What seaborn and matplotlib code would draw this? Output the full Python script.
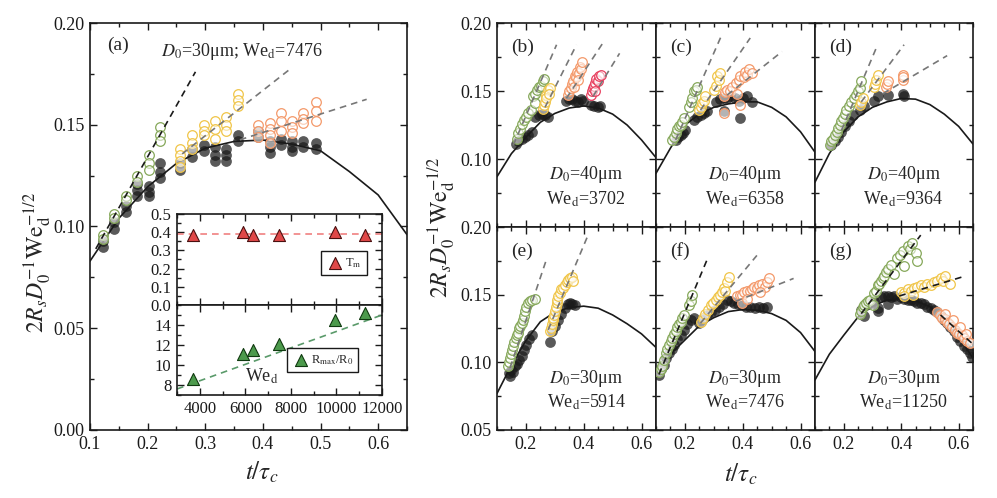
# -------------------------------------------------------------
# Sheet radius vs time: panel (a) with inset, panels (b)-(g)
# -------------------------------------------------------------
import numpy as np
import matplotlib
matplotlib.use("Agg")
import matplotlib.pyplot as plt
import seaborn as sns
from matplotlib.ticker import MultipleLocator, FormatStrFormatter

# -------------------------------------------------------------
# 0 – Data
# -------------------------------------------------------------
curve_t = [0.10, 0.15, 0.20, 0.25, 0.30, 0.35, 0.40, 0.45, 0.50, 0.55, 0.60, 0.65]
curve_a = [0.083, 0.104, 0.1195, 0.131, 0.1385, 0.1418, 0.1425, 0.1405, 0.1372, 0.127, 0.1155, 0.096]
curve_b = [0.087, 0.104, 0.116, 0.127, 0.1335, 0.1375, 0.139, 0.1375, 0.133, 0.125, 0.114, 0.101]
curve_c = [0.0895, 0.108, 0.125, 0.133, 0.138, 0.1405, 0.142, 0.142, 0.138, 0.131, 0.120, 0.105]
curve_d = [0.083, 0.104, 0.120, 0.131, 0.138, 0.142, 0.1445, 0.144, 0.140, 0.133, 0.124, 0.111]
curve_e = [0.077, 0.098, 0.116, 0.130, 0.137, 0.1405, 0.1415, 0.140, 0.135, 0.1285, 0.121, 0.111]
curve_f = [0.0906, 0.106, 0.1165, 0.127, 0.133, 0.1375, 0.139, 0.1385, 0.136, 0.131, 0.122, 0.108]
curve_g = [0.087, 0.106, 0.120, 0.1335, 0.1415, 0.146, 0.147, 0.1455, 0.141, 0.132, 0.119, 0.103]

# panel (a): D0=30um, We=7476
a_blk_t = [0.122, 0.122, 0.142, 0.142, 0.162, 0.162, 0.182, 0.182, 0.182, 0.203, 0.203, 0.203,
           0.222, 0.222, 0.222, 0.257, 0.257, 0.277, 0.277, 0.297, 0.297, 0.317, 0.317, 0.317,
           0.336, 0.336, 0.336, 0.356, 0.356, 0.392, 0.392, 0.413, 0.413, 0.413, 0.431, 0.431,
           0.450, 0.450, 0.450, 0.470, 0.470, 0.492, 0.492]
a_blk_v = [0.093, 0.090, 0.102, 0.099, 0.110, 0.107, 0.121, 0.118, 0.115, 0.120, 0.117, 0.115,
           0.131, 0.127, 0.124, 0.131, 0.128, 0.138, 0.134, 0.140, 0.137, 0.139, 0.135, 0.132,
           0.138, 0.135, 0.132, 0.145, 0.142, 0.147, 0.144, 0.142, 0.139, 0.136, 0.143, 0.140,
           0.142, 0.139, 0.137, 0.142, 0.139, 0.141, 0.138]
a_grn_t = [0.122, 0.122, 0.142, 0.142, 0.162, 0.162, 0.182, 0.182, 0.203, 0.203, 0.203, 0.222, 0.222, 0.222]
a_grn_v = [0.096, 0.094, 0.106, 0.104, 0.115, 0.113, 0.125, 0.122, 0.135, 0.131, 0.128, 0.149, 0.145, 0.142]
a_yel_t = [0.257, 0.257, 0.257, 0.257, 0.277, 0.277, 0.277, 0.297, 0.297, 0.297,
           0.317, 0.317, 0.317, 0.336, 0.336, 0.336, 0.356, 0.356, 0.356]
a_yel_v = [0.138, 0.135, 0.132, 0.129, 0.145, 0.141, 0.138, 0.150, 0.147, 0.145,
           0.152, 0.148, 0.143, 0.154, 0.150, 0.147, 0.165, 0.162, 0.159]
a_org_t = [0.392, 0.392, 0.392, 0.413, 0.413, 0.413, 0.413, 0.431, 0.431, 0.431,
           0.450, 0.450, 0.450, 0.470, 0.470, 0.470, 0.492, 0.492, 0.492]
a_org_v = [0.150, 0.147, 0.144, 0.151, 0.148, 0.145, 0.141, 0.156, 0.152, 0.147,
           0.152, 0.149, 0.146, 0.156, 0.153, 0.151, 0.161, 0.157, 0.152]
a_fit_t = [[0.11, 0.283], [0.26, 0.45], [0.36, 0.58]]
a_fit_v = [[0.089, 0.176], [0.1357, 0.178], [0.1426, 0.1625]]

# panel (b): D0=40um, We=3702
b_blk_t = [0.165, 0.174, 0.185, 0.197, 0.208, 0.220, 0.231, 0.245, 0.254, 0.266, 0.277,
           0.340, 0.350, 0.360, 0.369, 0.380, 0.390, 0.398, 0.426, 0.436, 0.449, 0.455]
b_blk_v = [0.111, 0.113, 0.115, 0.116, 0.118, 0.120, 0.131, 0.132, 0.133, 0.132, 0.131,
           0.143, 0.144, 0.144, 0.143, 0.142, 0.144, 0.143, 0.140, 0.139, 0.138, 0.139]
b_grn_t = [0.168, 0.174, 0.179, 0.187, 0.194, 0.201, 0.208, 0.217, 0.225, 0.231, 0.237, 0.244, 0.252, 0.258, 0.263, 0.230]
b_grn_v = [0.115, 0.119, 0.122, 0.126, 0.129, 0.131, 0.134, 0.136, 0.146, 0.148, 0.151, 0.153, 0.154, 0.157, 0.159, 0.141]
b_yel_t = [0.260, 0.263, 0.266, 0.271, 0.277, 0.283, 0.268, 0.280]
b_yel_v = [0.137, 0.140, 0.142, 0.147, 0.151, 0.152, 0.145, 0.148]
b_org_t = [0.346, 0.350, 0.355, 0.360, 0.363, 0.369, 0.374, 0.378, 0.382, 0.386, 0.390, 0.394, 0.366, 0.380]
b_org_v = [0.147, 0.150, 0.152, 0.155, 0.157, 0.161, 0.160, 0.164, 0.163, 0.168, 0.166, 0.171, 0.153, 0.158]
b_red_t = [0.426, 0.430, 0.432, 0.436, 0.438, 0.444, 0.448, 0.452, 0.459, 0.440]
b_red_v = [0.147, 0.150, 0.152, 0.154, 0.156, 0.159, 0.157, 0.161, 0.162, 0.150]
b_fit_t = [[0.156, 0.306], [0.266, 0.375], [0.340, 0.473], [0.432, 0.524]]
b_fit_v = [[0.110, 0.184], [0.138, 0.184], [0.1446, 0.1875], [0.146, 0.1777]]

# panel (c): D0=40um, We=6358
c_blk_t = [0.168, 0.177, 0.185, 0.194, 0.202, 0.231, 0.243, 0.254, 0.266, 0.277, 0.306,
           0.320, 0.334, 0.346, 0.357, 0.372, 0.386, 0.400, 0.415, 0.432, 0.392, 0.334]
c_blk_v = [0.114, 0.116, 0.118, 0.119, 0.121, 0.129, 0.131, 0.132, 0.134, 0.135, 0.142,
           0.144, 0.145, 0.145, 0.146, 0.145, 0.143, 0.145, 0.146, 0.142, 0.130, 0.135]
c_grn_t = [0.156, 0.162, 0.168, 0.174, 0.179, 0.185, 0.191, 0.214, 0.220, 0.225, 0.231, 0.237, 0.243, 0.197]
c_grn_v = [0.114, 0.116, 0.119, 0.122, 0.124, 0.125, 0.127, 0.138, 0.142, 0.145, 0.150, 0.151, 0.153, 0.130]
c_yel_t = [0.248, 0.254, 0.260, 0.266, 0.271, 0.300, 0.306, 0.311, 0.317, 0.323]
c_yel_v = [0.136, 0.138, 0.141, 0.143, 0.146, 0.151, 0.154, 0.161, 0.158, 0.163]
c_org_t = [0.334, 0.340, 0.346, 0.357, 0.363, 0.375, 0.386, 0.392, 0.403, 0.409, 0.415, 0.421, 0.432, 0.334, 0.392, 0.380]
c_org_v = [0.146, 0.149, 0.151, 0.150, 0.153, 0.156, 0.158, 0.161, 0.160, 0.164, 0.162, 0.166, 0.163, 0.134, 0.140, 0.148]
c_fit_t = [[0.168, 0.329], [0.254, 0.426], [0.346, 0.536]]
c_fit_v = [[0.114, 0.192], [0.136, 0.189], [0.147, 0.179]]

# panel (d): D0=40um, We=9364
d_blk_t = [0.157, 0.168, 0.180, 0.192, 0.203, 0.218, 0.232, 0.255, 0.272, 0.307, 0.318, 0.353, 0.405, 0.410]
d_blk_v = [0.110, 0.113, 0.116, 0.120, 0.124, 0.128, 0.132, 0.136, 0.139, 0.143, 0.146, 0.147, 0.148, 0.146]
d_grn_t = [0.152, 0.157, 0.163, 0.169, 0.175, 0.180, 0.186, 0.192, 0.198, 0.203, 0.209, 0.218, 0.226,
           0.235, 0.244, 0.250, 0.255, 0.261]
d_grn_v = [0.110, 0.113, 0.115, 0.118, 0.120, 0.123, 0.125, 0.128, 0.130, 0.133, 0.136, 0.139, 0.142,
           0.145, 0.147, 0.150, 0.152, 0.157]
d_yel_t = [0.255, 0.261, 0.267, 0.307, 0.310, 0.313, 0.319]
d_yel_v = [0.140, 0.142, 0.145, 0.153, 0.155, 0.158, 0.162]
d_org_t = [0.347, 0.350, 0.353, 0.405, 0.405, 0.408]
d_org_v = [0.153, 0.155, 0.157, 0.158, 0.162, 0.160]
d_fit_t = [[0.192, 0.318], [0.261, 0.410], [0.336, 0.560]]
d_fit_v = [[0.121, 0.184], [0.142, 0.184], [0.148, 0.176]]

# panel (e): D0=30um, We=5914
e_blk_t = [0.140, 0.145, 0.150, 0.156, 0.162, 0.168, 0.176, 0.185, 0.194, 0.202, 0.211, 0.220,
           0.283, 0.289, 0.300, 0.312, 0.323, 0.335, 0.345, 0.352, 0.360, 0.369]
e_blk_v = [0.092, 0.090, 0.094, 0.093, 0.097, 0.099, 0.102, 0.105, 0.109, 0.113, 0.117, 0.120,
           0.115, 0.123, 0.127, 0.131, 0.136, 0.140, 0.143, 0.144, 0.143, 0.142]
e_grn_t = [0.139, 0.142, 0.145, 0.148, 0.151, 0.156, 0.160, 0.164, 0.168, 0.172, 0.176, 0.180,
           0.185, 0.190, 0.194, 0.198, 0.202, 0.208, 0.215, 0.222, 0.231]
e_grn_v = [0.097, 0.100, 0.103, 0.106, 0.109, 0.112, 0.115, 0.118, 0.120, 0.122, 0.125, 0.127,
           0.129, 0.131, 0.134, 0.138, 0.141, 0.144, 0.145, 0.146, 0.147]
e_yel_t = [0.283, 0.286, 0.289, 0.292, 0.294, 0.297, 0.300, 0.303, 0.306, 0.309, 0.312, 0.318,
           0.323, 0.329, 0.335, 0.341, 0.346, 0.352, 0.358, 0.363]
e_yel_v = [0.123, 0.125, 0.128, 0.131, 0.133, 0.135, 0.138, 0.141, 0.144, 0.146, 0.149, 0.151,
           0.154, 0.155, 0.157, 0.159, 0.161, 0.162, 0.163, 0.160]
e_fit_t = [[0.145, 0.271], [0.277, 0.415]]
e_fit_v = [[0.096, 0.176], [0.124, 0.194]]

# panel (f): D0=30um, We=7476
f_blk_t = [0.110, 0.119, 0.128, 0.136, 0.145, 0.154, 0.162, 0.174, 0.185, 0.197, 0.208, 0.220,
           0.231, 0.248, 0.260, 0.275, 0.289, 0.303, 0.317, 0.332, 0.346, 0.360, 0.369, 0.384,
           0.398, 0.412, 0.426, 0.441, 0.455, 0.470, 0.484]
f_blk_v = [0.091, 0.095, 0.098, 0.103, 0.107, 0.110, 0.113, 0.117, 0.120, 0.124, 0.128, 0.131,
           0.133, 0.129, 0.131, 0.135, 0.137, 0.139, 0.141, 0.143, 0.146, 0.145, 0.144, 0.143,
           0.142, 0.141, 0.141, 0.140, 0.141, 0.140, 0.141]
f_grn_t = [0.110, 0.116, 0.122, 0.128, 0.133, 0.139, 0.145, 0.151, 0.157, 0.162, 0.168, 0.174,
           0.179, 0.185, 0.191, 0.197, 0.214, 0.220, 0.225]
f_grn_v = [0.093, 0.095, 0.097, 0.102, 0.107, 0.110, 0.113, 0.116, 0.118, 0.121, 0.123, 0.126,
           0.128, 0.130, 0.133, 0.135, 0.142, 0.145, 0.150]
f_yel_t = [0.254, 0.262, 0.271, 0.280, 0.289, 0.298, 0.306, 0.315, 0.323, 0.329, 0.334, 0.340, 0.346, 0.352]
f_yel_v = [0.130, 0.133, 0.136, 0.139, 0.142, 0.144, 0.146, 0.148, 0.150, 0.152, 0.155, 0.153, 0.159, 0.163]
f_org_t = [0.380, 0.389, 0.398, 0.406, 0.415, 0.424, 0.432, 0.440, 0.449, 0.458, 0.467, 0.476,
           0.484, 0.490, 0.398, 0.415, 0.461]
f_org_v = [0.149, 0.150, 0.150, 0.152, 0.153, 0.153, 0.154, 0.156, 0.155, 0.157, 0.158, 0.156,
           0.159, 0.162, 0.144, 0.147, 0.152]
f_fit_t = [[0.110, 0.277], [0.254, 0.449], [0.375, 0.576]]
f_fit_v = [[0.091, 0.176], [0.129, 0.179], [0.145, 0.162]]

# panel (g): D0=30um, We=11250
g_blk_t = [0.261, 0.272, 0.284, 0.296, 0.307, 0.318, 0.330, 0.341, 0.353, 0.364, 0.376, 0.387,
           0.399, 0.410, 0.422, 0.433, 0.445, 0.456, 0.468, 0.480, 0.491, 0.503, 0.514, 0.526,
           0.537, 0.549, 0.560, 0.571, 0.583, 0.594, 0.606, 0.617, 0.629, 0.640, 0.646, 0.318, 0.353]
g_blk_v = [0.139, 0.134, 0.143, 0.144, 0.145, 0.138, 0.148, 0.149, 0.149, 0.148, 0.149, 0.147,
           0.148, 0.147, 0.146, 0.146, 0.145, 0.144, 0.144, 0.143, 0.141, 0.140, 0.139, 0.137,
           0.134, 0.131, 0.129, 0.126, 0.123, 0.119, 0.116, 0.112, 0.110, 0.107, 0.104, 0.140, 0.143]
g_grn_t = [0.255, 0.261, 0.267, 0.272, 0.278, 0.284, 0.290, 0.301, 0.307, 0.312, 0.318, 0.324,
           0.330, 0.336, 0.341, 0.347, 0.355, 0.364, 0.376, 0.387, 0.396, 0.405, 0.411, 0.422,
           0.430, 0.439, 0.451, 0.456]
g_grn_v = [0.136, 0.138, 0.141, 0.142, 0.144, 0.145, 0.146, 0.142, 0.151, 0.153, 0.157, 0.158,
           0.160, 0.162, 0.164, 0.167, 0.169, 0.172, 0.165, 0.177, 0.179, 0.182, 0.171, 0.186,
           0.184, 0.188, 0.181, 0.175]
g_yel_t = [0.399, 0.410, 0.422, 0.433, 0.445, 0.456, 0.468, 0.480, 0.491, 0.503, 0.514, 0.526,
           0.537, 0.546, 0.554, 0.571, 0.410, 0.440]
g_yel_v = [0.152, 0.151, 0.154, 0.153, 0.155, 0.156, 0.157, 0.156, 0.158, 0.157, 0.159, 0.160,
           0.162, 0.160, 0.164, 0.158, 0.149, 0.150]
g_org_t = [0.525, 0.534, 0.543, 0.551, 0.560, 0.568, 0.577, 0.586, 0.594, 0.603, 0.611, 0.620,
           0.629, 0.640, 0.554, 0.580, 0.606, 0.625]
g_org_v = [0.137, 0.135, 0.133, 0.132, 0.130, 0.128, 0.126, 0.124, 0.122, 0.121, 0.120, 0.118,
           0.116, 0.114, 0.136, 0.131, 0.126, 0.121]
g_fit_t = [[0.261, 0.468], [0.393, 0.611], [0.537, 0.652]]
g_fit_v = [[0.136, 0.194], [0.149, 0.163], [0.135, 0.113]]

# inset data
we_d = [3702, 5914, 6358, 7476, 9950, 11250]
t_m = [0.385, 0.403, 0.385, 0.385, 0.403, 0.385]
r_ratio = [8.57, 11.07, 11.5, 12.1, 14.5, 15.23]
r_fit_x = [3000, 12000]
r_fit_y = [7.6, 15.0]

# -------------------------------------------------------------
# 1 – Style
# -------------------------------------------------------------
sns.set_theme(style="ticks")
plt.rcParams['font.family'] = ['Liberation Serif', 'DejaVu Serif']
plt.rcParams['mathtext.fontset'] = 'stix'

GRN, YEL, ORG, RED = '#86a85a', '#f0c548', '#f4996a', '#e8405f'
GRAY = '#777777'
W, H = 997, 498
fig = plt.figure(figsize=(W/100, H/100), dpi=100)

def px_axes(x0, y0, x1, y1):
    return fig.add_axes([x0/W, 1-y1/H, (x1-x0)/W, (y1-y0)/H])

def style(ax, xmaj, xmin, ymaj, ymin, size=13):
    ax.xaxis.set_major_locator(MultipleLocator(xmaj)); ax.xaxis.set_minor_locator(MultipleLocator(xmin))
    ax.yaxis.set_major_locator(MultipleLocator(ymaj)); ax.yaxis.set_minor_locator(MultipleLocator(ymin))
    ax.tick_params(which='both', direction='in', top=True, right=True, width=1, colors='k', labelsize=size, pad=4)
    ax.tick_params(which='major', length=5); ax.tick_params(which='minor', length=3)
    for s in ax.spines.values():
        s.set_linewidth(1.2); s.set_color('k')
    ax.set_xlabel(''); ax.set_ylabel('')

def draw(ax, curve_v, blk_t, blk_v, groups, fits_t, fits_v, fit_cols):
    sns.scatterplot(x=blk_t, y=blk_v, ax=ax, color='k', alpha=0.72, s=60, linewidth=0, zorder=2)
    sns.lineplot(x=curve_t, y=curve_v, ax=ax, color='k', lw=1.2, zorder=3)
    for t, v, c in groups:
        sns.scatterplot(x=t, y=v, ax=ax, facecolor=(1, 1, 1, 0.55), edgecolor=c, s=48, linewidth=0.9, zorder=4)
    for t, v, c in zip(fits_t, fits_v, fit_cols):
        sns.lineplot(x=t, y=v, ax=ax, color=c, lw=1.2, linestyle=(0, (4, 3)), zorder=5)
    ax.set_xlim(0.1, 0.65)

# -------------------------------------------------------------
# 2 – Panel (a)
# -------------------------------------------------------------
ax = px_axes(90, 23, 407, 430)
draw(ax, curve_a, a_blk_t, a_blk_v,
     [(a_grn_t, a_grn_v, GRN), (a_yel_t, a_yel_v, YEL), (a_org_t, a_org_v, ORG)],
     a_fit_t, a_fit_v, ['k', GRAY, GRAY])
ax.set_ylim(0, 0.2)
style(ax, 0.1, 0.05, 0.05, 0.025)
ax.xaxis.set_major_formatter(FormatStrFormatter('%.1f'))
ax.yaxis.set_major_formatter(FormatStrFormatter('%.2f'))
ax.text(0.055, 0.945, '(a)', transform=ax.transAxes, fontsize=14, va='center')
ax.text(0.48, 0.93, r'$D_0$=30μm; We$_\mathrm{d}$=7476', transform=ax.transAxes, fontsize=13, ha='center', va='center')

# inset
axt = px_axes(177, 214, 382, 305)
axb = px_axes(177, 305, 382, 395)
axt.axhline(np.mean(t_m), color='#f08080', lw=1.2, ls=(0, (4, 3)))
sns.scatterplot(x=we_d, y=t_m, ax=axt, marker='^', s=75, color='#e04848', edgecolor='#4a1010', linewidth=0.8,
                label=r'T$_\mathrm{m}$', zorder=3)
axt.set_xlim(3000, 12000); axt.set_ylim(0, 0.5)
style(axt, 2000, 1000, 0.1, 0.05, size=12)
axt.tick_params(labelbottom=False)
axt.yaxis.set_major_formatter(FormatStrFormatter('%.1f'))
axt.legend(loc='lower right', bbox_to_anchor=(0.955, 0.26), frameon=True, fancybox=False, edgecolor='k',
           fontsize=9, handletextpad=0.1, handlelength=1.4, borderpad=0.4, framealpha=1)

sns.lineplot(x=r_fit_x, y=r_fit_y, ax=axb, color='#5a9a6a', lw=1.2, linestyle=(0, (4, 3)))
sns.scatterplot(x=we_d, y=r_ratio, ax=axb, marker='^', s=75, color='#4c9a4c', edgecolor='#103a10', linewidth=0.8,
                label=r'R$_\mathrm{max}$/R$_0$', zorder=3)
axb.set_xlim(3000, 12000); axb.set_ylim(7, 16)
style(axb, 2000, 1000, 2, 1, size=12)
axb.set_yticks([8, 10, 12, 14])
axb.legend(loc='lower right', bbox_to_anchor=(0.915, 0.19), frameon=True, fancybox=False, edgecolor='k',
           fontsize=9, handletextpad=0.1, handlelength=1.4, borderpad=0.4, framealpha=1)
axb.text(6700, 8.9, r'We$_\mathrm{d}$', fontsize=13, ha='center', va='center')

# -------------------------------------------------------------
# 3 – Panels (b)-(g)
# -------------------------------------------------------------
cols = [497, 656, 815, 973]
rows = [23, 227, 430]
panels = [
    ('(b)', '40', '3702', curve_b, b_blk_t, b_blk_v,
     [(b_grn_t, b_grn_v, GRN), (b_yel_t, b_yel_v, YEL), (b_org_t, b_org_v, ORG), (b_red_t, b_red_v, RED)],
     b_fit_t, b_fit_v, [GRAY] * 4),
    ('(c)', '40', '6358', curve_c, c_blk_t, c_blk_v,
     [(c_grn_t, c_grn_v, GRN), (c_yel_t, c_yel_v, YEL), (c_org_t, c_org_v, ORG)],
     c_fit_t, c_fit_v, [GRAY] * 3),
    ('(d)', '40', '9364', curve_d, d_blk_t, d_blk_v,
     [(d_grn_t, d_grn_v, GRN), (d_yel_t, d_yel_v, YEL), (d_org_t, d_org_v, ORG)],
     d_fit_t, d_fit_v, [GRAY] * 3),
    ('(e)', '30', '5914', curve_e, e_blk_t, e_blk_v,
     [(e_grn_t, e_grn_v, GRN), (e_yel_t, e_yel_v, YEL)],
     e_fit_t, e_fit_v, [GRAY] * 2),
    ('(f)', '30', '7476', curve_f, f_blk_t, f_blk_v,
     [(f_grn_t, f_grn_v, GRN), (f_yel_t, f_yel_v, YEL), (f_org_t, f_org_v, ORG)],
     f_fit_t, f_fit_v, ['k', GRAY, GRAY]),
    ('(g)', '30', '11250', curve_g, g_blk_t, g_blk_v,
     [(g_grn_t, g_grn_v, GRN), (g_yel_t, g_yel_v, YEL), (g_org_t, g_org_v, ORG)],
     g_fit_t, g_fit_v, ['k', 'k', 'k']),
]
for i, (tag, d0, we, cv, bt, bv, groups, ft, fv, fc) in enumerate(panels):
    r, c = divmod(i, 3)
    ax = px_axes(cols[c], rows[r], cols[c + 1], rows[r + 1])
    draw(ax, cv, bt, bv, groups, ft, fv, fc)
    ax.set_ylim(0.05, 0.2)
    style(ax, 0.2, 0.05, 0.05, 0.025)
    ax.xaxis.set_major_formatter(FormatStrFormatter('%.1f'))
    if c == 0:
        yt = [0.10, 0.15, 0.20] if r == 0 else [0.05, 0.10, 0.15, 0.20]
        ax.set_yticks(yt)
        ax.set_yticklabels([f'{v:.2f}' for v in yt])
    else:
        ax.tick_params(labelleft=False)
    if r == 0:
        ax.tick_params(labelbottom=False)
    ax.text(0.09, 0.88, tag, transform=ax.transAxes, fontsize=14, va='center')
    ax.text(0.56, 0.255, r'$D_0$=' + d0 + 'μm', transform=ax.transAxes, fontsize=13, ha='center', va='center')
    ax.text(0.56, 0.135, r'We$_\mathrm{d}$=' + we, transform=ax.transAxes, fontsize=13, ha='center', va='center')

# -------------------------------------------------------------
# 4 – Axis labels
# -------------------------------------------------------------
ylab = r'$2R_sD_0^{-1}\mathrm{We}_\mathrm{d}^{-1/2}$'
fig.text(38/W, 1-262/H, ylab, rotation=90, fontsize=17, ha='center', va='center')
fig.text(442/W, 1-227/H, ylab, rotation=90, fontsize=17, ha='center', va='center')
fig.text(262/W, 1-472/H, r'$t/\tau_c$', fontsize=18, ha='center', va='center')
fig.text(741/W, 1-474/H, r'$t/\tau_c$', fontsize=18, ha='center', va='center')

fig.savefig('out.png', dpi=100)
